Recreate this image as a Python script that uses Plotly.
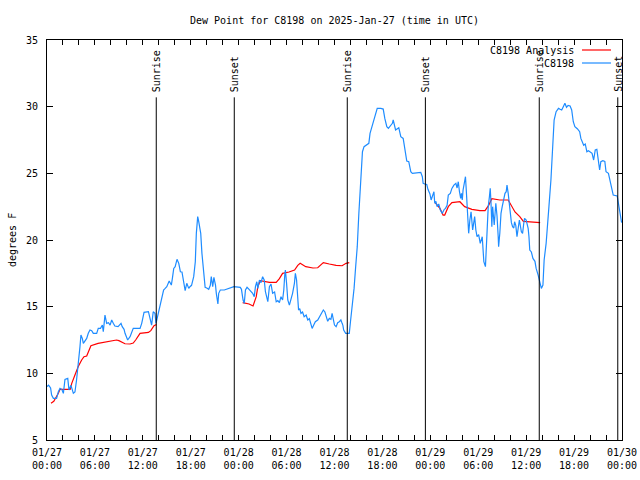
import pandas as pd
import plotly.graph_objects as go

# ---- data (hours since 2025-01-27 00:00 UTC) ----
obs_hours = [0.0, 0.2, 0.45, 0.58, 0.8, 1.2, 1.42, 1.63, 1.85, 2.05, 2.25, 2.6, 2.75, 3.0, 3.3, 3.5, 3.7, 3.9,
             4.13, 4.25, 4.42, 4.55, 4.75, 4.97, 5.17, 5.38, 5.6, 5.8, 6.22, 6.42, 6.7, 6.93, 7.05, 7.26, 7.47,
             7.7, 7.9, 8.1, 8.3, 8.5, 8.9, 9.27, 9.42, 9.65, 9.77, 10.1, 10.4, 10.6, 10.8, 11.65, 11.86, 12.15,
             12.7, 12.9, 13.1, 13.3, 13.52, 13.65, 13.86, 14.06, 14.2, 14.4, 14.6, 14.8, 15.0, 15.3, 15.57,
             15.7, 15.87, 16.05, 16.28, 16.5, 16.7, 16.9, 17.1, 17.3, 17.5, 17.75, 17.9, 18.1, 18.37, 18.57,
             18.7, 18.87, 19.0, 19.25, 19.4, 19.6, 19.8, 20.0, 20.25, 20.45, 20.57, 20.75, 20.9, 21.0, 21.1,
             21.2, 21.3, 21.4, 21.5, 21.7, 22.2, 22.75, 23.4, 24.2, 24.35, 24.55, 24.7, 24.85, 25.05, 25.3,
             25.55, 25.75, 25.95, 26.1, 26.27, 26.4, 26.6, 26.8, 27.0, 27.2, 27.35, 27.5, 27.65, 27.85, 28.05,
             28.25, 28.5, 28.7, 28.9, 29.1, 29.3, 29.5, 29.65, 29.77, 29.85, 30.0, 30.15, 30.35, 30.55, 30.75,
             30.98, 31.1, 31.25, 31.4, 31.5, 31.65, 31.8, 32.0, 32.2, 32.45, 32.65, 32.85, 33.05, 33.2, 33.4,
             33.6, 33.9, 34.3, 34.6, 34.8, 35.0, 35.15, 35.35, 35.55, 35.7, 35.85, 36.0, 36.2, 36.4, 36.6,
             36.8, 36.95, 37.05, 37.15, 37.4, 37.7, 37.85, 38.0, 38.2, 38.45, 38.65, 38.85, 39.05, 39.3, 39.5,
             39.7, 40.0, 40.3, 40.45, 40.75, 40.95, 41.15, 41.35, 41.8, 42.1, 42.3, 42.55, 42.75, 43.0, 43.25,
             43.35, 43.5, 43.65, 44.05, 44.3, 44.6, 44.75, 44.9, 45.05, 45.3, 45.55, 45.75, 46.8, 47.0, 47.1,
             47.3, 47.55, 47.7, 47.95, 48.1, 48.3, 48.45, 48.55, 48.7, 48.85, 49.05, 49.25, 49.5, 49.75, 49.9,
             50.1, 50.25, 50.5, 50.7, 50.95, 51.2, 51.35, 51.5, 51.65, 51.8, 51.9, 52.0, 52.1, 52.3, 52.4,
             52.5, 52.6, 52.75, 52.8, 52.95, 53.1, 53.3, 53.55, 53.7, 53.85, 54.05, 54.25, 54.5, 54.6, 54.7,
             54.9, 55.0, 55.1, 55.25, 55.4, 55.5, 55.6, 55.7, 55.8, 56.0, 56.2, 56.35, 56.5, 56.55, 56.7,
             56.85, 57.0, 57.2, 57.35, 57.5, 57.6, 57.75, 57.9, 58.0, 58.15, 58.3, 58.45, 58.55, 58.7, 58.85,
             59.0, 59.15, 59.4, 59.55, 59.7, 59.8, 60.0, 60.25, 60.35, 60.45, 60.65, 60.85, 61.1, 61.25, 61.5,
             61.8, 61.9, 62.1, 62.25, 62.5, 62.65, 62.85, 63.1, 63.35, 63.5, 63.75, 64.05, 64.25, 64.45, 64.65,
             64.85, 65.05, 65.25, 65.5, 65.7, 65.9, 66.1, 66.4, 66.7, 66.85, 67.0, 67.2, 67.4, 67.6, 67.8,
             68.0, 68.25, 68.45, 68.65, 68.85, 69.05, 69.2, 69.35, 69.6, 69.85, 70.0, 70.3, 70.5, 70.7, 70.9,
             71.4, 71.55, 71.75, 71.85, 71.95]
obs_dewpt = [9.0, 9.12, 8.9, 8.37, 8.12, 8.12, 8.62, 8.87, 8.8, 8.5, 9.55, 9.62, 8.75, 9.1, 8.5, 8.6, 9.5, 10.5,
             12.0, 12.87, 12.62, 12.25, 12.4, 12.62, 13.0, 13.25, 13.2, 13.0, 13.0, 13.37, 13.37, 13.62, 13.12,
             14.37, 13.75, 13.8, 13.62, 14.0, 13.75, 13.55, 13.5, 13.75, 13.5, 13.3, 13.0, 12.5, 12.75, 13.0,
             13.37, 13.37, 13.75, 14.57, 14.62, 14.12, 13.62, 14.62, 14.5, 13.75, 14.3, 14.6, 15.0, 15.5, 16.25,
             16.37, 16.5, 16.92, 16.62, 17.12, 17.87, 18.0, 18.55, 18.25, 17.62, 17.6, 17.0, 16.2, 16.75, 16.37,
             16.5, 16.6, 17.25, 18.37, 20.5, 21.75, 21.37, 20.5, 19.0, 17.75, 16.45, 16.4, 16.3, 16.6, 17.25,
             16.5, 17.2, 16.9, 16.62, 16.0, 15.62, 15.2, 16.0, 16.25, 16.25, 16.37, 16.5, 16.45, 16.3, 15.5,
             15.25, 16.25, 16.45, 16.3, 16.12, 16.0, 15.75, 16.5, 16.87, 16.37, 17.0, 16.8, 17.25, 17.0, 16.12,
             15.75, 15.37, 16.5, 16.7, 16.0, 16.1, 15.37, 15.45, 15.3, 15.75, 15.5, 16.25, 17.37, 17.75, 16.75,
             15.5, 15.12, 15.5, 16.0, 16.75, 17.5, 17.0, 15.75, 14.75, 14.85, 14.5, 14.6, 14.25, 14.37, 14.0,
             14.1, 13.62, 13.37, 13.62, 13.87, 14.0, 14.5, 14.75, 14.6, 14.12, 13.9, 14.12, 14.05, 14.5, 14.05,
             13.62, 13.5, 13.8, 13.87, 14.0, 13.75, 13.6, 13.25, 13.0, 13.0, 13.0, 13.87, 14.87, 16.37, 18.0,
             19.5, 22.0, 25.12, 26.62, 27.0, 27.12, 27.25, 28.0, 28.62, 29.0, 29.5, 29.87, 29.87, 29.82, 29.12,
             28.5, 28.37, 28.55, 28.75, 29.0, 28.6, 28.25, 28.42, 27.75, 27.62, 27.0, 26.37, 25.92, 25.87,
             25.12, 25.0, 25.07, 24.75, 24.25, 24.2, 24.17, 23.8, 23.45, 23.0, 23.4, 23.62, 22.75, 22.9, 22.5,
             22.7, 22.25, 22.0, 22.3, 22.37, 22.6, 23.37, 23.5, 23.87, 24.12, 24.25, 23.9, 24.37, 23.62, 23.12,
             23.5, 23.0, 23.75, 24.5, 24.75, 23.75, 22.5, 20.87, 20.5, 21.5, 22.12, 20.75, 21.75, 20.75, 20.25,
             20.4, 19.75, 20.25, 19.25, 18.37, 18.0, 19.5, 20.75, 22.5, 23.25, 23.87, 22.75, 21.0, 22.5, 21.12,
             22.75, 21.8, 20.25, 19.5, 20.5, 22.0, 22.5, 23.25, 23.5, 23.62, 24.12, 23.5, 22.75, 22.0, 21.3,
             21.0, 20.9, 21.37, 21.1, 20.25, 20.9, 21.5, 20.62, 20.5, 21.25, 21.62, 21.5, 20.87, 20.25, 19.25,
             19.1, 18.62, 18.4, 17.87, 17.37, 16.5, 16.37, 16.62, 18.5, 19.75, 20.75, 22.5, 24.5, 27.25, 29.0,
             29.62, 29.87, 29.8, 29.75, 30.0, 30.25, 29.95, 30.1, 30.05, 29.75, 28.87, 28.5, 28.35, 28.12, 27.62,
             27.37, 27.1, 27.2, 26.62, 26.7, 26.62, 26.5, 26.0, 26.75, 26.8, 25.62, 25.25, 25.87, 25.95, 25.9,
             25.12, 25.0, 24.5, 24.0, 23.37, 23.3, 22.75, 21.87, 21.5, 21.3]

ana_hours = [0.5, 0.85, 1.42, 1.63, 2.9, 3.1, 3.5, 3.9, 4.34, 4.63, 4.97, 5.17, 5.5, 6.4, 7.05, 7.47, 8.1, 8.7,
             9.0, 9.35, 9.77, 10.4, 10.8, 11.1, 11.65, 12.7, 13.0, 13.4, 13.7, 19.0,
             24.5, 25.3, 25.8, 26.2, 26.4, 26.7, 27.85, 28.7, 29.1, 29.5, 30.3, 31.0, 31.4, 31.7, 32.4, 33.3,
             33.9, 34.6, 35.35, 36.2, 36.95, 37.45, 37.85, 43.0,
             48.6, 49.2, 49.6, 49.8, 50.25, 50.7, 51.7, 52.3, 53.2, 54.2, 54.85, 55.3, 55.7, 56.7, 57.75, 58.6,
             59.2, 59.65, 61.75]
ana_dewpt = [7.75, 7.9, 8.5, 8.8, 8.8, 9.25, 9.87, 10.5, 11.0, 11.25, 11.3, 11.6, 12.07, 12.25, 12.32, 12.42,
             12.47, 12.5, 12.45, 12.35, 12.22, 12.2, 12.27, 12.5, 13.0, 13.07, 13.2, 13.57, 13.67, None,
             15.3, 15.2, 15.05, 15.75, 16.5, 16.95, 16.82, 16.82, 17.1, 17.5, 17.6, 17.75, 18.1, 18.25, 18.0,
             17.9, 17.92, 18.3, 18.2, 18.1, 18.07, 18.25, 18.3, None,
             22.8, 22.37, 21.87, 21.87, 22.5, 22.8, 22.87, 22.5, 22.3, 22.2, 22.2, 22.6, 23.1, 23.0, 23.0, 22.1,
             21.75, 21.4, 21.3]

event_hours = [13.68, 23.45, 37.6, 47.38, 61.64, 71.47]
event_labels = ["Sunrise", "Sunset", "Sunrise", "Sunset", "Sunrise", "Sunset"]

series_names = ["C8198 Analysis", "C8198"]
series_colors = ["#ff0000", "#1e8cff"]

start = pd.Timestamp("2025-01-27 00:00")
def to_time(hours):
    return [start + pd.Timedelta(hours=h) for h in hours]

FONT = "DejaVu Sans Mono"
fig = go.Figure()
fig.add_trace(go.Scatter(x=to_time(ana_hours), y=ana_dewpt, mode="lines", name=series_names[0],
                         line=dict(color=series_colors[0], width=1.2), connectgaps=False, showlegend=False))
fig.add_trace(go.Scatter(x=to_time(obs_hours), y=obs_dewpt, mode="lines", name=series_names[1],
                         line=dict(color=series_colors[1], width=1.2), showlegend=False))

for h, lab in zip(event_hours, event_labels):
    t = start + pd.Timedelta(hours=h)
    fig.add_shape(type="line", xref="x", yref="y", x0=t, x1=t, y0=5, y1=30.7,
                  line=dict(color="black", width=1))
    fig.add_annotation(x=t, y=30.95, xref="x", yref="y", text=lab, textangle=-90, showarrow=False,
                       xanchor="center", yanchor="bottom", font=dict(family=FONT, size=10, color="black"))

# legend (gnuplot style: text on the left, sample on the right)
for i, (nm, col) in enumerate(zip(series_names, series_colors)):
    ypx = 50 + i * 13
    yp = 1 - (ypx - 40) / 400
    fig.add_annotation(x=(576 - 47) / 575, y=yp, xref="paper", yref="paper", text=nm, showarrow=False,
                       xanchor="right", yanchor="middle", font=dict(family=FONT, size=10, color="black"))
    fig.add_shape(type="line", xref="paper", yref="paper", x0=(582 - 47) / 575, x1=(611 - 47) / 575,
                  y0=yp, y1=yp, line=dict(color=col, width=1.2))

fig.add_annotation(x=(12 - 47) / 575, y=0.5, xref="paper", yref="paper", text="degrees F", textangle=-90,
                   showarrow=False, xanchor="center", yanchor="middle",
                   font=dict(family=FONT, size=10, color="black"))

fig.update_layout(
    width=640, height=480,
    margin=dict(l=47, r=18, t=40, b=40),
    paper_bgcolor="white", plot_bgcolor="white",
    font=dict(family=FONT, size=10, color="black"),
    title=dict(text="Dew Point for C8198 on 2025-Jan-27 (time in UTC)", xref="paper", x=0.5, xanchor="center",
               y=1 - 20 / 480, yanchor="middle", font=dict(family=FONT, size=10, color="black")),
    showlegend=False,
)
fig.update_xaxes(type="date", range=[start, start + pd.Timedelta(hours=72)], automargin=False,
                 tick0=start, dtick=6 * 3600 * 1000, tickformat="%m/%d<br>%H:%M",
                 ticks="inside", ticklen=5, tickcolor="black", mirror="allticks", ticklabelstandoff=3,
                 showline=True, linecolor="black", linewidth=1, showgrid=False, zeroline=False,
                 minor=dict(dtick=2 * 3600 * 1000, ticks="inside", ticklen=5, tickcolor="black", showgrid=False))
fig.update_yaxes(range=[5, 35], dtick=5, ticks="inside", ticklen=6, tickcolor="black", mirror="allticks",
                 automargin=False, ticklabelstandoff=6,
                 showline=True, linecolor="black", linewidth=1, showgrid=False, zeroline=False)

fig.write_html("out.html", config={"displayModeBar": False},
               post_script="document.body.style.margin='0';document.body.style.overflow='hidden';")
